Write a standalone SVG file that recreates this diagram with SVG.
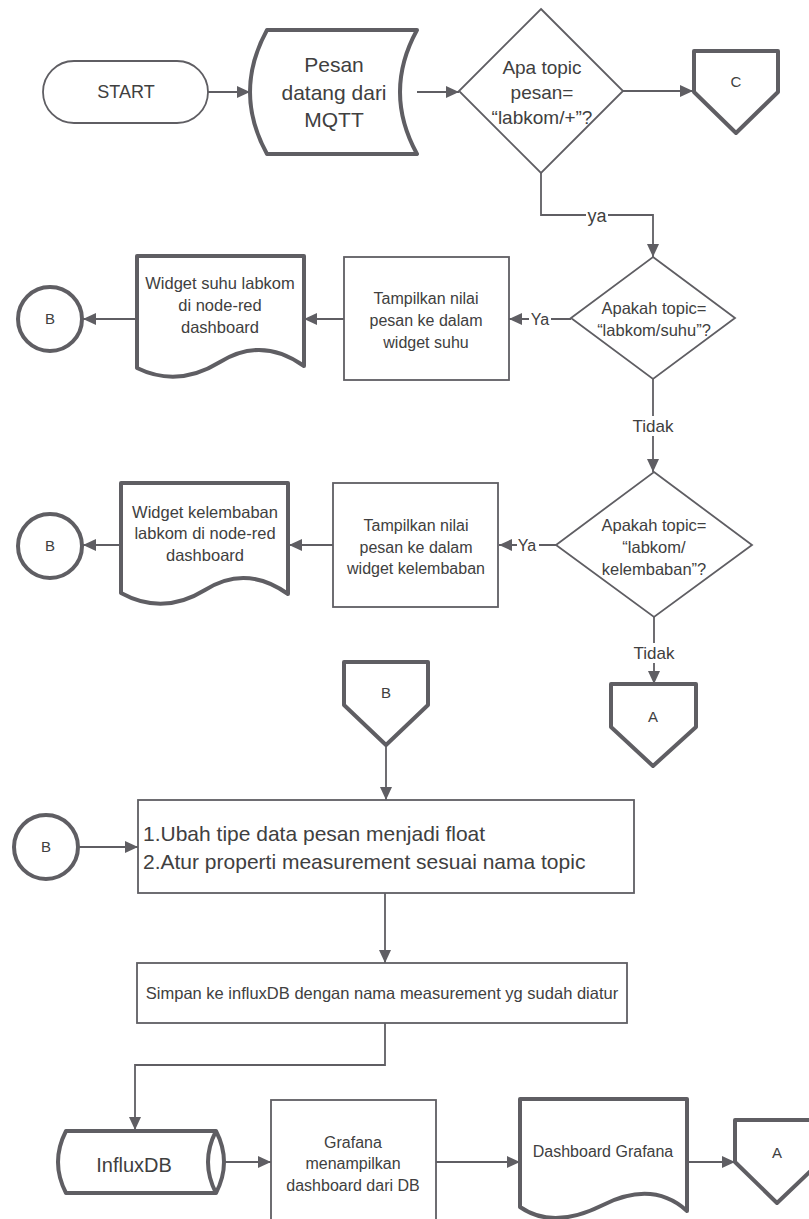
<svg xmlns="http://www.w3.org/2000/svg" width="809" height="1219" viewBox="0 0 809 1219">
<defs>
<marker id="arr" markerUnits="userSpaceOnUse" markerWidth="14" markerHeight="12" refX="13" refY="6" orient="auto">
<path d="M0,0 L13,6 L0,12 z" fill="#5f5e63"/>
</marker>
</defs>
<style>
.thin{fill:#fff;stroke:#5f5e63;stroke-width:1.8}
.thick{fill:#fff;stroke:#5f5e63;stroke-width:4;stroke-linejoin:round}
.con{fill:none;stroke:#5f5e63;stroke-width:1.8}
text{font-family:"Liberation Sans",Arial,sans-serif;fill:#404040;text-anchor:middle}
.lbl{font-size:17px}
.bg{fill:#fff}
</style>
<rect width="809" height="1219" fill="#fff"/>

<g id="connectors">
<path class="con" d="M208,92 H250" marker-end="url(#arr)"/>
<path class="con" d="M417,92 H459" marker-end="url(#arr)"/>
<path class="con" d="M623,91 H693" marker-end="url(#arr)"/>
<path class="con" d="M541,173 V215 H653 V257" marker-end="url(#arr)"/>
<rect class="bg" x="586" y="206" width="22" height="20"/>
<text x="597" y="222" style="font-size:18px">ya</text>
<path class="con" d="M571,319 H509" marker-end="url(#arr)"/>
<rect class="bg" x="529" y="310" width="22" height="18"/>
<text x="540" y="325" style="font-size:16px">Ya</text>
<path class="con" d="M344,319 H304" marker-end="url(#arr)"/>
<path class="con" d="M137,319 H83" marker-end="url(#arr)"/>
<path class="con" d="M653,379 V472" marker-end="url(#arr)"/>
<rect class="bg" x="632" y="416" width="42" height="20"/>
<text class="lbl" x="653" y="432">Tidak</text>
<path class="con" d="M556,545 H499" marker-end="url(#arr)"/>
<rect class="bg" x="517" y="536" width="22" height="18"/>
<text x="527" y="551" style="font-size:16px">Ya</text>
<path class="con" d="M333,545 H289" marker-end="url(#arr)"/>
<path class="con" d="M121,545 H83" marker-end="url(#arr)"/>
<path class="con" d="M654,617 V684" marker-end="url(#arr)"/>
<rect class="bg" x="633" y="643" width="42" height="20"/>
<text class="lbl" x="654" y="659">Tidak</text>
<path class="con" d="M386,745 V800" marker-end="url(#arr)"/>
<path class="con" d="M78,847 H138" marker-end="url(#arr)"/>
<path class="con" d="M385,893 V963" marker-end="url(#arr)"/>
<path class="con" d="M385,1023 V1065 H135 V1130" marker-end="url(#arr)"/>
<path class="con" d="M224,1162 H271" marker-end="url(#arr)"/>
<path class="con" d="M436,1162 H520" marker-end="url(#arr)"/>
<path class="con" d="M687,1162 H735" marker-end="url(#arr)"/>
</g>

<g id="start">
<rect class="thin" x="43" y="61" width="165" height="62" rx="31"/>
<text x="126" y="98" style="font-size:18px">START</text>
</g>

<g id="pesan">
<path class="thick" d="M267,30 L417,30 Q383,92 417,154 L267,154 Q233,92 267,30 z"/>
<text x="334" y="72" style="font-size:21px">Pesan</text>
<text x="334" y="100" style="font-size:21px">datang dari</text>
<text x="334" y="127" style="font-size:21px">MQTT</text>
</g>

<g id="dec-topic">
<path class="thin" d="M541,9 L623,91 L541,173 L459,91 z"/>
<text x="542" y="74" style="font-size:19px">Apa topic</text>
<text x="542" y="99" style="font-size:19px">pesan=</text>
<text x="542" y="124" style="font-size:19px">“labkom/+”?</text>
</g>

<g id="off-c">
<path class="thick" d="M694,51 H778 V92 L736,133 L694,92 z"/>
<text x="736" y="87" style="font-size:15px">C</text>
</g>

<g id="dec-suhu">
<path class="thin" d="M653,257 L735,318 L653,379 L571,318 z"/>
<text x="654" y="314" style="font-size:16.5px">Apakah topic=</text>
<text x="654" y="336" style="font-size:16.5px">“labkom/suhu”?</text>
</g>

<g id="proc-suhu">
<rect class="thin" x="344" y="257" width="165" height="123"/>
<text x="426" y="304" style="font-size:16px">Tampilkan nilai</text>
<text x="426" y="326" style="font-size:16px">pesan ke dalam</text>
<text x="426" y="348" style="font-size:16px">widget suhu</text>
</g>

<g id="doc-suhu">
<path class="thick" d="M137,256 H304 V366 Q262,336 220,362 Q178,388 137,368 z"/>
<text x="220" y="289" style="font-size:16.5px">Widget suhu labkom</text>
<text x="220" y="311" style="font-size:16.5px">di node-red</text>
<text x="220" y="333" style="font-size:16.5px">dashboard</text>
</g>

<g id="circ-b1">
<circle class="thick" cx="50" cy="319" r="32"/>
<text x="50" y="324" style="font-size:15px">B</text>
</g>

<g id="dec-kel">
<path class="thin" d="M654,472 L752,545 L654,617 L556,545 z"/>
<text x="654" y="531" style="font-size:16.5px">Apakah topic=</text>
<text x="654" y="553" style="font-size:16.5px">“labkom/</text>
<text x="654" y="575" style="font-size:16.5px">kelembaban”?</text>
</g>

<g id="proc-kel">
<rect class="thin" x="333" y="483" width="165" height="124"/>
<text x="416" y="531" style="font-size:16px">Tampilkan nilai</text>
<text x="416" y="553" style="font-size:16px">pesan ke dalam</text>
<text x="416" y="574" style="font-size:16px">widget kelembaban</text>
</g>

<g id="doc-kel">
<path class="thick" d="M121,483 H288 V594 Q246,564 205,590 Q163,616 121,593 z"/>
<text x="205" y="518" style="font-size:16.5px">Widget kelembaban</text>
<text x="205" y="539" style="font-size:16.5px">labkom di node-red</text>
<text x="205" y="561" style="font-size:16.5px">dashboard</text>
</g>

<g id="circ-b2">
<circle class="thick" cx="50" cy="546" r="32"/>
<text x="50" y="551" style="font-size:15px">B</text>
</g>

<g id="off-a1">
<path class="thick" d="M611,684 H696 V727 L653,766 L611,727 z"/>
<text x="653" y="722" style="font-size:15px">A</text>
</g>

<g id="off-b">
<path class="thick" d="M344,662 H428 V705 L386,745 L344,705 z"/>
<text x="386" y="698" style="font-size:15px">B</text>
</g>

<g id="circ-b3">
<circle class="thick" cx="46" cy="847" r="32"/>
<text x="46" y="852" style="font-size:15px">B</text>
</g>

<g id="proc-ubah">
<rect class="thin" x="138" y="800" width="496" height="93"/>
<text x="143" y="841" style="font-size:21px;text-anchor:start">1.Ubah tipe data pesan menjadi float</text>
<text x="143" y="869" style="font-size:21px;text-anchor:start">2.Atur properti measurement sesuai nama topic</text>
</g>

<g id="proc-simpan">
<rect class="thin" x="137" y="963" width="490" height="60"/>
<text x="382" y="999" style="font-size:16.5px">Simpan ke influxDB dengan nama measurement yg sudah diatur</text>
</g>

<g id="influxdb">
<path class="thick" d="M66,1131 H216 Q232,1162 216,1193 H66 Q50,1162 66,1131 z"/>
<path class="thick" style="fill:none" d="M216,1131 Q200,1162 216,1193"/>
<text x="134" y="1172" style="font-size:20px">InfluxDB</text>
</g>

<g id="proc-grafana">
<rect class="thin" x="271" y="1100" width="165" height="130"/>
<text x="353" y="1148" style="font-size:16px">Grafana</text>
<text x="353" y="1169" style="font-size:16px">menampilkan</text>
<text x="353" y="1191" style="font-size:16px">dashboard dari DB</text>
</g>

<g id="doc-grafana">
<path class="thick" d="M520,1099 H687 V1211 Q653,1180 603,1205 Q553,1230 520,1207 z"/>
<text x="603" y="1157" style="font-size:16px">Dashboard Grafana</text>
</g>

<g id="off-a2">
<path class="thick" d="M735,1120 H820 V1162 L777,1203 L735,1162 z"/>
<text x="777" y="1158" style="font-size:15px">A</text>
</g>
</svg>
